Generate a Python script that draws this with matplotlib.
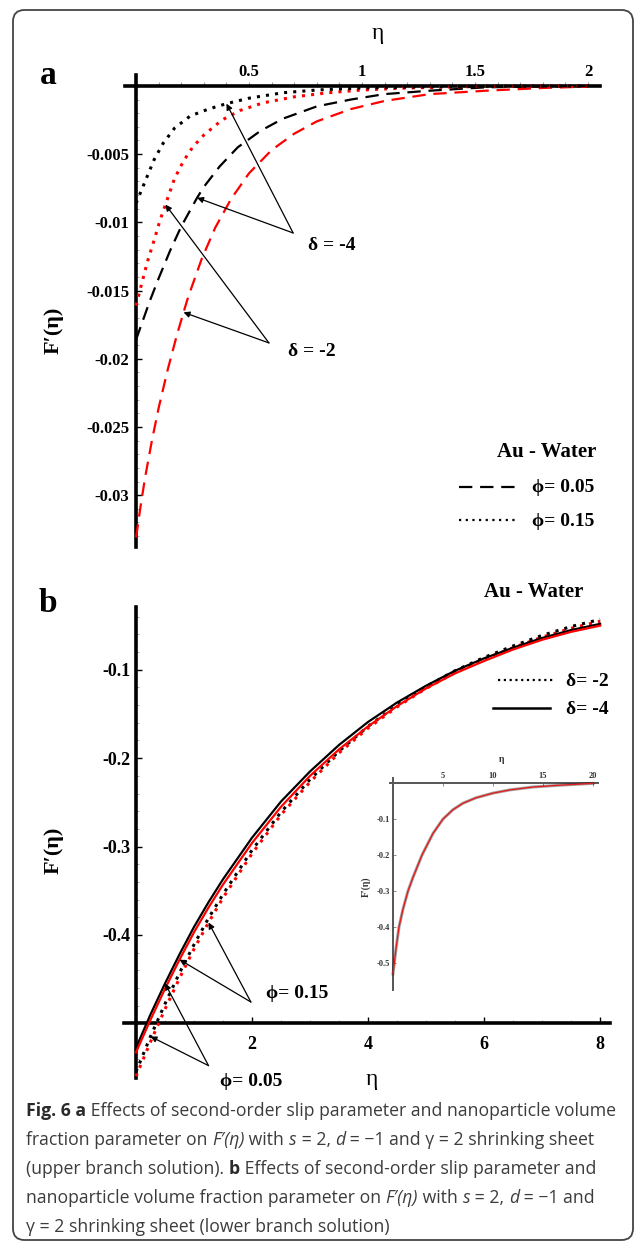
import numpy as np
import matplotlib
matplotlib.use('Agg')
import matplotlib.pyplot as plt
from matplotlib.lines import Line2D
from matplotlib.patches import FancyBboxPatch

SERIF = ['Liberation Serif', 'DejaVu Serif']
SANS = ['Open Sans', 'DejaVu Sans']
plt.rcParams['font.family'] = SERIF
plt.rcParams['font.weight'] = 'bold'

W, H = 634, 1242

# ---------------- data: panel a (upper branch) ----------------
a_xticks = [0.5, 1, 1.5, 2]
a_xlabels = ['0.5', '1', '1.5', '2']
a_yticks = [-0.005, -0.01, -0.015, -0.02, -0.025, -0.03]
a_ylabels = ['-0.005', '-0.01', '-0.015', '-0.02', '-0.025', '-0.03']

# phi = 0.15, delta = -4 (black dotted)
eta_a_kdot = [0, 0.02, 0.05, 0.08, 0.12, 0.17, 0.24, 0.32, 0.40, 0.5, 0.65, 0.8, 1.0, 1.25, 1.5, 2.0]
f_a_kdot = [-0.0086, -0.0078, -0.0066, -0.0054, -0.0042, -0.0031, -0.0022, -0.0017, -0.0013,
            -0.0009, -0.0005, -0.0003, -0.00015, -0.00007, -0.00003, 0]
# phi = 0.15, delta = -2 (red dotted)
eta_a_rdot = [0, 0.02, 0.05, 0.08, 0.105, 0.13, 0.17, 0.21, 0.25, 0.3, 0.38, 0.46, 0.56, 0.7,
              0.85, 1.0, 1.2, 1.5, 2.0]
f_a_rdot = [-0.0161, -0.0148, -0.0129, -0.0113, -0.0099, -0.0087, -0.0068, -0.0055, -0.0045,
            -0.0036, -0.0025, -0.0018, -0.00125, -0.0008, -0.0005, -0.0003, -0.00015, -0.00005, 0]
# phi = 0.05, delta = -4 (black dashed)
eta_a_kdash = [0, 0.03, 0.06, 0.1, 0.15, 0.2, 0.25, 0.27, 0.3, 0.37, 0.45, 0.55, 0.65, 0.8, 0.95,
               1.1, 1.3, 1.55, 2.0]
f_a_kdash = [-0.0186, -0.0172, -0.0158, -0.0141, -0.0121, -0.0103, -0.0088, -0.0082, -0.0074,
             -0.0059, -0.0045, -0.0033, -0.0024, -0.0015, -0.0010, -0.0006, -0.00035, -0.0001, 0]
# phi = 0.05, delta = -2 (red dashed)
eta_a_rdash = [0, 0.02, 0.04, 0.07, 0.1, 0.14, 0.18, 0.21, 0.23, 0.29, 0.35, 0.42, 0.5, 0.6, 0.7,
               0.8, 0.95, 1.1, 1.3, 1.55, 1.8, 2.0]
f_a_rdash = [-0.0331, -0.0308, -0.0287, -0.0260, -0.0236, -0.0208, -0.0183, -0.0166, -0.0155,
             -0.0127, -0.0104, -0.0083, -0.0064, -0.0047, -0.0035, -0.0026, -0.0017, -0.0011,
             -0.0006, -0.00035, -0.00015, -0.00005]

# ---------------- data: panel b (lower branch) ----------------
b_xticks = [2, 4, 6, 8]
b_xlabels = ['2', '4', '6', '8']
b_yticks = [-0.1, -0.2, -0.3, -0.4]
b_ylabels = ['-0.1', '-0.2', '-0.3', '-0.4']

eta_b = [0, 0.25, 0.5, 0.75, 1, 1.25, 1.5, 2, 2.5, 3, 3.5, 4, 4.5, 5, 5.5, 6, 6.5, 7, 7.5, 8]
f_b_ksolid = [-0.528, -0.490, -0.455, -0.422, -0.391, -0.363, -0.337, -0.290, -0.249, -0.215,
              -0.185, -0.159, -0.137, -0.118, -0.101, -0.087, -0.075, -0.064, -0.055, -0.048]
f_b_rsolid = [-0.533, -0.496, -0.461, -0.428, -0.397, -0.369, -0.343, -0.296, -0.255, -0.220,
              -0.190, -0.164, -0.141, -0.121, -0.104, -0.090, -0.077, -0.066, -0.057, -0.050]
f_b_kdot = [-0.555, -0.515, -0.478, -0.443, -0.411, -0.381, -0.354, -0.304, -0.261, -0.224,
            -0.192, -0.164, -0.140, -0.119, -0.101, -0.086, -0.073, -0.061, -0.051, -0.043]
f_b_rdot = [-0.560, -0.521, -0.484, -0.449, -0.416, -0.386, -0.358, -0.308, -0.264, -0.227,
            -0.194, -0.166, -0.142, -0.121, -0.103, -0.088, -0.075, -0.063, -0.053, -0.045]

# inset
i_xticks = [5, 10, 15, 20]
i_yticks = [-0.1, -0.2, -0.3, -0.4, -0.5]
eta_i = [0, 0.3, 0.6, 1.0, 1.5, 2.0, 2.9, 4.0, 5.0, 6.0, 7.0, 8.3, 10, 11.7, 14, 16.7, 20]
f_i = [-0.53, -0.46, -0.40, -0.35, -0.30, -0.262, -0.20, -0.140, -0.10, -0.074, -0.056, -0.041,
       -0.028, -0.019, -0.011, -0.006, -0.001]

caption = [
    [("Fig. 6 a", 'bold', 'normal'),
     (" Effects of second-order slip parameter and nanoparticle volume", 'normal', 'normal')],
    [("fraction parameter on ", 'normal', 'normal'), ("F\u2032(\u03b7)", 'normal', 'italic'),
     (" with ", 'normal', 'normal'), ("s", 'normal', 'italic'), (" = 2, ", 'normal', 'normal'),
     ("d", 'normal', 'italic'), (" = \u22121 and \u03b3 = 2 shrinking sheet", 'normal', 'normal')],
    [("(upper branch solution). ", 'normal', 'normal'), ("b", 'bold', 'normal'),
     (" Effects of second-order slip parameter and", 'normal', 'normal')],
    [("nanoparticle volume fraction parameter on ", 'normal', 'normal'),
     ("F\u2032(\u03b7)", 'normal', 'italic'), (" with ", 'normal', 'normal'),
     ("s", 'normal', 'italic'), (" = 2, ", 'normal', 'normal'), ("d", 'normal', 'italic'),
     (" = \u22121 and", 'normal', 'normal')],
    [("\u03b3 = 2 shrinking sheet (lower branch solution)", 'normal', 'normal')],
]


def fx(x):
    return x / W


def fy(y):
    return 1 - y / H


def ftext(x, y, s, **kw):
    kw.setdefault('ha', 'center')
    kw.setdefault('va', 'center')
    return fig.text(fx(x), fy(y), s, **kw)


def arrow(ax, target, origin):
    ax.annotate('', xy=target, xytext=origin,
                arrowprops=dict(arrowstyle='-|>', color='black', lw=0.9,
                                mutation_scale=9, shrinkA=0, shrinkB=0))


fig = plt.figure(figsize=(W / 100, H / 100), dpi=100)

# outer rounded frame (behind everything)
frame = FancyBboxPatch((fx(13), fy(1240)), (633 - 13) / W, (1240 - 10) / H,
                       boxstyle='round,pad=0,rounding_size=0.018', mutation_aspect=W / H,
                       transform=fig.transFigure, facecolor='none', edgecolor='#444444',
                       lw=1.3, zorder=-5)
fig.add_artist(frame)

# ================= panel a =================
axa = fig.add_axes([fx(125), fy(547), (600 - 125) / W, (547 - 75) / H])
axa.patch.set_alpha(0)
axa.set_xlim(-0.049, 2.053)
axa.set_ylim(-0.0338, 0.0008)
axa.spines['bottom'].set_visible(False)
axa.spines['right'].set_visible(False)
axa.spines['top'].set_position(('data', 0))
axa.spines['left'].set_position(('data', 0))
axa.spines['top'].set_linewidth(2.6)
axa.spines['left'].set_linewidth(2.6)
axa.xaxis.set_ticks_position('top')
axa.set_xticks(a_xticks)
axa.set_xticklabels(a_xlabels)
axa.set_xticks(np.arange(0.1, 2.01, 0.1), minor=True)
axa.set_yticks(a_yticks)
axa.set_yticklabels(a_ylabels)
axa.set_yticks(np.arange(-0.033, 0, 0.001), minor=True)
axa.tick_params(axis='x', which='both', direction='out', length=3, width=0.8,
                color='#999999', pad=1, labelsize=12)
axa.tick_params(axis='y', which='major', direction='in', length=4, width=1, pad=5, labelsize=12)
axa.tick_params(axis='y', which='minor', direction='in', length=2, width=0.6, color='#999999')

axa.plot(eta_a_rdash, f_a_rdash, color='#ff0000', ls=(0, (6, 3.5)), lw=1.6, zorder=3)
axa.plot(eta_a_kdash, f_a_kdash, color='black', ls=(0, (6, 3.5)), lw=1.6, zorder=3)
axa.plot(eta_a_rdot, f_a_rdot, color='#ff0000', ls=(0, (1, 2)), lw=2.2, zorder=3)
axa.plot(eta_a_kdot, f_a_kdot, color='black', ls=(0, (1, 2)), lw=2.2, zorder=3)

# delta annotations
arrow(axa, (eta_a_kdot[8], f_a_kdot[8]), (0.695, -0.01078))
arrow(axa, (eta_a_kdash[7], f_a_kdash[7]), (0.695, -0.01078))
arrow(axa, (eta_a_rdot[5], f_a_rdot[5]), (0.588, -0.01884))
arrow(axa, (eta_a_rdash[7], f_a_rdash[7]), (0.588, -0.01884))

ftext(48, 76, 'a', fontsize=24)
ftext(378, 33, '\u03b7', fontsize=17, weight='normal')
ftext(54, 330, 'F\u2032(\u03b7)', fontsize=16, rotation=90)
ftext(332, 245, '\u03b4 = -4', fontsize=14)
ftext(312, 352, '\u03b4 = -2', fontsize=14)
ftext(547, 452, 'Au - Water', fontsize=15)
fig.add_artist(Line2D([fx(459), fx(516)], [fy(487), fy(487)], color='black', lw=1.6,
                      ls=(0, (6, 3.5)), transform=fig.transFigure))
fig.add_artist(Line2D([fx(459), fx(516)], [fy(520), fy(520)], color='black', lw=1.6,
                      ls=(0, (1, 2)), transform=fig.transFigure))
ftext(563, 488, '\u03d5= 0.05', fontsize=14)
ftext(563, 521, '\u03d5= 0.15', fontsize=14)

# ================= panel b =================
axb = fig.add_axes([fx(124), fy(1078), (610 - 124) / W, (1078 - 607) / H])
axb.patch.set_alpha(0)
axb.set_xlim(-0.207, 8.17)
axb.set_ylim(-0.562, -0.0289)
axb.spines['top'].set_visible(False)
axb.spines['right'].set_visible(False)
axb.spines['bottom'].set_position(('data', -0.5))
axb.spines['left'].set_position(('data', 0))
axb.spines['bottom'].set_linewidth(2.6)
axb.spines['left'].set_linewidth(2.6)
axb.set_xticks(b_xticks)
axb.set_xticklabels(b_xlabels)
axb.set_xticks(np.arange(0.5, 8.01, 0.5), minor=True)
axb.set_yticks(b_yticks)
axb.set_yticklabels(b_ylabels)
axb.set_yticks(np.arange(-0.54, -0.03, 0.02), minor=True)
axb.tick_params(axis='x', which='major', direction='in', length=4, width=1, pad=9, labelsize=13)
axb.tick_params(axis='x', which='minor', direction='in', length=2, width=0.6, color='#999999')
axb.tick_params(axis='y', which='major', direction='in', length=4, width=1, pad=4, labelsize=13)
axb.tick_params(axis='y', which='minor', direction='in', length=2, width=0.6, color='#999999')

axb.plot(eta_b, f_b_rdot, color='#ff0000', ls=(0, (1, 2)), lw=2.2, zorder=3)
axb.plot(eta_b, f_b_kdot, color='black', ls=(0, (1, 2)), lw=2.2, zorder=3)
axb.plot(eta_b, f_b_ksolid, color='black', lw=1.6, zorder=3)
axb.plot(eta_b, f_b_rsolid, color='#ff0000', lw=1.6, zorder=3)

arrow(axb, (eta_b[5], f_b_rdot[5]), (1.98, -0.476))
arrow(axb, (eta_b[3], f_b_rsolid[3]), (1.98, -0.476))
arrow(axb, (eta_b[2], f_b_ksolid[2]), (1.25, -0.548))
arrow(axb, (eta_b[1], f_b_kdot[1]), (1.25, -0.548))

ftext(48, 604, 'b', fontsize=24)
ftext(534, 592, 'Au - Water', fontsize=15)
fig.add_artist(Line2D([fx(498), fx(553)], [fy(680), fy(680)], color='black', lw=1.6,
                      ls=(0, (1, 1.6)), transform=fig.transFigure))
fig.add_artist(Line2D([fx(493), fx(550)], [fy(708), fy(708)], color='black', lw=1.8,
                      transform=fig.transFigure))
ftext(587, 681, '\u03b4= -2', fontsize=14)
ftext(587, 709, '\u03b4= -4', fontsize=14)
ftext(297, 993, '\u03d5= 0.15', fontsize=14)
ftext(251, 1082, '\u03d5= 0.05', fontsize=14)
ftext(372, 1080, '\u03b7', fontsize=17, weight='normal')
ftext(54, 850, 'F\u2032(\u03b7)', fontsize=16, rotation=90)

# ================= inset =================
axi = fig.add_axes([fx(390), fy(990), (598 - 390) / W, (990 - 778) / H])
axi.patch.set_alpha(0)
axi.set_xlim(-0.3, 20.5)
axi.set_ylim(-0.575, 0.014)
axi.spines['bottom'].set_visible(False)
axi.spines['right'].set_visible(False)
axi.spines['top'].set_position(('data', 0))
axi.spines['left'].set_position(('data', 0))
for s in ['top', 'left']:
    axi.spines[s].set_linewidth(1.4)
    axi.spines[s].set_color('#555555')
axi.xaxis.set_ticks_position('top')
axi.set_xticks(i_xticks)
axi.set_xticklabels([str(v) for v in i_xticks])
axi.set_yticks(i_yticks)
axi.set_yticklabels(['%g' % v for v in i_yticks])
axi.tick_params(axis='both', direction='in', length=2, width=0.6, color='#777777',
                labelsize=6, labelcolor='#333333', pad=2)
axi.plot(eta_i, f_i, color='black', lw=2.2, alpha=0.35, zorder=3)
axi.plot(eta_i, f_i, color='#e02020', lw=1.0, zorder=4)
ftext(502, 760, '\u03b7', fontsize=7, color='#333333')
ftext(366, 887, 'F\u2032(\u03b7)', fontsize=7, rotation=90, color='#333333')

# ================= caption =================
renderer = fig.canvas.get_renderer()
baselines = [1116, 1145, 1174, 1203, 1232]
for base, parts in zip(baselines, caption):
    x = 26
    for txt, wt, st in parts:
        t = fig.text(fx(x), fy(base), txt, family=SANS, fontsize=12.7, weight=wt, style=st,
                     color='#2a2a2a' if wt == 'bold' else '#3c3c3c', ha='left', va='baseline')
        x += t.get_window_extent(renderer).width

fig.savefig('out.png', dpi=100)
